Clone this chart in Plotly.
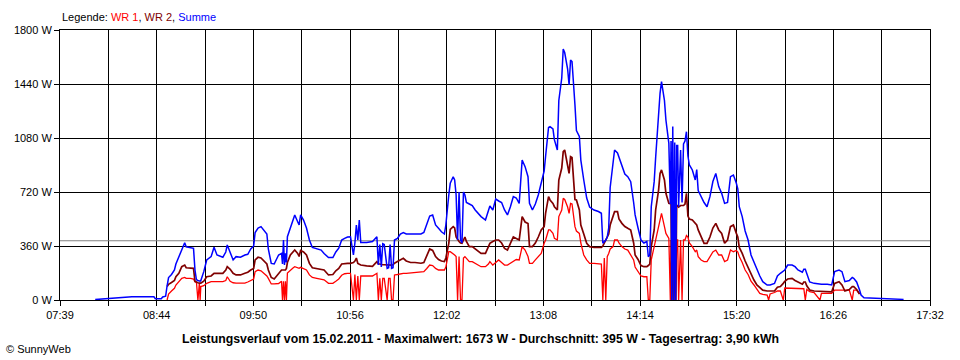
import plotly.graph_objects as go
from datetime import datetime

DATE = "2011-02-15"

times = [
    "08:03", "08:06", "08:10", "08:16", "08:21", "08:28", "08:37", "08:43", "08:44", "08:48",
    "08:49", "08:51", "08:52", "08:53", "08:55", "08:57", "08:58", "09:00", "09:02", "09:04",
    "09:05", "09:08", "09:10", "09:11", "09:12", "09:13", "09:14", "09:14:30", "09:15", "09:17",
    "09:19", "09:22", "09:24", "09:26", "09:30", "09:32", "09:33", "09:35", "09:37", "09:39",
    "09:42", "09:45", "09:47", "09:49", "09:51", "09:52", "09:54", "09:56", "09:58", "10:00",
    "10:01", "10:03", "10:05", "10:08", "10:10", "10:10:40", "10:11:20", "10:12", "10:12:40", "10:13:20",
    "10:14", "10:16", "10:18", "10:19", "10:21", "10:22", "10:23", "10:25", "10:27", "10:29",
    "10:31", "10:34", "10:37", "10:39", "10:42", "10:45", "10:47", "10:49", "10:51", "10:53",
    "10:55", "10:57", "10:59", "11:00", "11:01", "11:02", "11:03", "11:04", "11:08", "11:12",
    "11:15", "11:16", "11:17", "11:18", "11:19", "11:20", "11:22", "11:23", "11:24", "11:25",
    "11:26", "11:27", "11:29", "11:31", "11:33", "11:35", "11:38", "11:41", "11:45", "11:47",
    "11:49", "11:51", "11:53", "11:55", "11:57", "11:59", "12:01", "12:02", "12:04", "12:05",
    "12:07", "12:08", "12:09", "12:10", "12:11", "12:12", "12:13", "12:14", "12:15", "12:16",
    "12:18", "12:20", "12:22", "12:24", "12:26", "12:29", "12:31", "12:32", "12:34", "12:36",
    "12:38", "12:40", "12:42", "12:44", "12:46", "12:48", "12:50", "12:52", "12:54", "12:56",
    "12:58", "12:59", "13:01", "13:03", "13:05", "13:07", "13:09", "13:10", "13:12", "13:13",
    "13:15", "13:16", "13:18", "13:19", "13:21", "13:22", "13:23", "13:25", "13:26", "13:27",
    "13:28", "13:30", "13:31", "13:33", "13:34", "13:36", "13:38", "13:40", "13:43", "13:46",
    "13:48", "13:49", "13:50", "13:51", "13:52", "13:53", "13:54", "13:56", "13:57", "13:59",
    "14:00", "14:02", "14:04", "14:06", "14:08", "14:10", "14:11", "14:13", "14:15", "14:17",
    "14:19", "14:20", "14:21", "14:22", "14:24", "14:25", "14:27", "14:28", "14:29", "14:31",
    "14:32", "14:34", "14:35", "14:35:30", "14:36", "14:36:40", "14:37:20", "14:38", "14:38:40", "14:39:20",
    "14:40", "14:40:40", "14:42", "14:43", "14:44", "14:45", "14:46", "14:47", "14:48", "14:50",
    "14:52", "14:53", "14:54", "14:56", "14:58", "15:00", "15:02", "15:04", "15:06", "15:08",
    "15:10", "15:12", "15:14", "15:16", "15:18", "15:20", "15:21", "15:22", "15:24", "15:26",
    "15:28", "15:30", "15:32", "15:34", "15:36", "15:38", "15:41", "15:42", "15:43", "15:46",
    "15:48", "15:50", "15:52", "15:53", "15:55", "15:58", "16:00", "16:02", "16:05", "16:06",
    "16:07", "16:08", "16:10", "16:13", "16:17", "16:18", "16:22", "16:25", "16:27", "16:30",
    "16:32", "16:34", "16:37", "16:39", "16:40", "16:42", "16:44", "16:45", "16:47", "16:57",
    "17:06", "17:14",
]

N = None
wr1 = [
    N, N, N, N, N, N, N, N, N, N,
    N, N, 0, 40, 60, 78, 100, 122, 144, 150,
    144, 144, 140, 120, 118, 0, 115, 0, 90, 95,
    111, 122, 122, 122, 122, 130, 155, 125, 115, 113,
    113, 113, 120, 133, 140, 189, 200, 195, 178, 160,
    144, 107, 107, 110, 125, 0, 125, 0, 125, 0,
    180, 200, 215, 222, 215, 211, 218, 211, 200, 167,
    150, 144, 140, 135, 111, 111, 125, 140, 165, 175,
    178, 178, 0, 170, 0, 160, 0, 160, 160, 160,
    178, 0, 144, 0, 144, 144, 0, 144, 144, 0,
    0, 167, 170, 175, 178, 178, 180, 185, 189, 189,
    210, 233, 230, 211, 200, 200, 200, 220, 322, 322,
    310, 300, 290, 0, 290, 0, 0, 280, 289, 280,
    256, 256, 244, 230, 222, 222, 240, 256, 233, 250,
    267, 250, 233, 233, 244, 256, 270, 267, 356, 333,
    290, 244, 244, 267, 290, 311, 378, 400, 467, 467,
    444, 411, 400, 556, 600, 678, 670, 620, 578, 644,
    640, 489, 460, 444, 380, 300, 267, 244, 244, 240,
    240, 0, 280, 0, 289, 310, 340, 356, 400, 400,
    380, 356, 340, 333, 300, 267, 220, 190, 160, 155,
    155, 0, 0, 267, 356, 400, 489, 533, 578, 489,
    444, 411, 0, 400, 0, 400, 0, 400, 0, 400,
    400, 0, 400, 0, 400, 400, 430, 420, 380, 356,
    322, 333, 289, 267, 256, 256, 290, 320, 333, 300,
    300, 256, 267, 333, 322, 330, 320, 290, 250, 200,
    170, 125, 100, 70, 44, 38, 33, 0, 40, 50,
    60, 60, 0, 80, 80, 80, 80, 78, 75, 75,
    0, 70, 55, 50, 0, 44, 44, 44, 66, 66,
    66, 66, 66, 0, 66, 66, 40, N, N, N,
    N, N,
]

wr2 = [
    N, N, N, N, N, N, N, N, N, N,
    N, N, 90, 105, 117, 130, 155, 178, 222, 233,
    215, 211, 211, 125, 118, 115, 113, 113, 113, 125,
    155, 160, 178, 178, 178, 200, 222, 205, 178, 167,
    167, 178, 185, 200, 210, 267, 285, 280, 260, 240,
    200, 150, 140, 178, 200, 200, 200, 200, 200, 210,
    250, 300, 320, 333, 311, 290, 330, 320, 300, 244,
    215, 211, 205, 200, 167, 170, 195, 210, 240, 244,
    244, 244, 250, 260, 280, 244, 240, 233, 228, 225,
    256, 240, 240, 235, 235, 235, 233, 233, 233, 233,
    235, 245, 256, 270, 278, 260, 250, 250, 245, 250,
    300, 340, 330, 290, 270, 260, 256, 280, 378, 470,
    489, 480, 420, 400, 390, 380, 378, 400, 420, 390,
    356, 356, 340, 330, 311, 311, 350, 378, 390, 400,
    400, 380, 344, 333, 378, 420, 410, 400, 556, 520,
    510, 356, 356, 380, 420, 467, 489, 580, 689, 667,
    644, 622, 600, 800, 880, 989, 1000, 900, 844, 956,
    950, 670, 667, 600, 500, 440, 378, 356, 350, 350,
    350, 360, 380, 400, 420, 440, 500, 556, 589, 589,
    540, 511, 490, 478, 467, 380, 300, 270, 230, 222,
    222, 230, 240, 356, 467, 600, 733, 844, 867, 800,
    711, 644, 640, 640, 0, 640, 0, 640, 0, 630,
    630, 620, 630, 630, 630, 640, 711, 560, 540, 533,
    511, 500, 467, 422, 378, 378, 420, 480, 511, 467,
    444, 378, 400, 489, 500, 444, 420, 350, 311, 260,
    215, 167, 133, 100, 80, 66, 60, 60, 60, 60,
    85, 90, 111, 125, 140, 144, 130, 122, 105, 120,
    120, 95, 66, 60, 58, 58, 55, 55, 111, 122,
    100, 60, 70, 89, 89, 70, 40, N, N, N,
    N, N,
]

summe = [
    3, 5, 8, 10, 18, 22, 22, 22, 8, 8,
    20, 25, 95, 150, 170, 200, 240, 290, 340, 382,
    355, 350, 345, 200, 135, 130, 128, 125, 130, 189,
    267, 289, 351, 300, 285, 320, 367, 320, 267, 289,
    285, 300, 305, 340, 360, 450, 480, 489, 460, 440,
    340, 244, 240, 300, 311, 240, 400, 233, 311, 250,
    422, 480, 530, 567, 522, 500, 567, 533, 480, 400,
    350, 340, 333, 310, 283, 283, 320, 345, 400, 411,
    420, 422, 300, 380, 500, 400, 533, 383, 383, 390,
    422, 233, 370, 220, 375, 370, 211, 215, 370, 211,
    215, 400, 410, 440, 450, 440, 440, 444, 440, 450,
    511, 560, 567, 500, 478, 455, 440, 500, 700, 778,
    822, 800, 700, 400, 720, 400, 380, 720, 700, 650,
    640, 630, 600, 578, 556, 533, 600, 627, 600, 673,
    660, 650, 600, 567, 622, 689, 680, 644, 933, 889,
    822, 644, 600, 640, 700, 780, 860, 960, 1150, 1156,
    1140, 1067, 1000, 1330, 1480, 1673, 1650, 1540, 1433, 1600,
    1590, 1300, 1130, 1090, 933, 800, 680, 620, 600, 590,
    578, 378, 390, 400, 420, 480, 750, 900, 1000, 980,
    950, 889, 840, 822, 789, 650, 567, 480, 400, 380,
    390, 289, 300, 622, 789, 950, 1244, 1378, 1456, 1330,
    1200, 1044, 640, 1060, 0, 1156, 0, 1050, 0, 1030,
    1030, 622, 1000, 650, 1040, 1060, 1122, 960, 900, 867,
    800, 870, 730, 689, 650, 622, 689, 790, 844, 756,
    711, 644, 650, 822, 833, 778, 740, 622, 556, 460,
    400, 300, 250, 200, 160, 122, 100, 100, 100, 110,
    160, 178, 189, 200, 233, 233, 222, 200, 185, 205,
    205, 178, 120, 111, 105, 105, 105, 100, 190, 200,
    189, 122, 130, 150, 144, 120, 67, 33, 15, 10,
    5, 4,
]

assert len(times) == len(wr1) == len(wr2) == len(summe)

x_tick_labels = ["07:39", "08:44", "09:50", "10:56", "12:02",
                 "13:08", "14:14", "15:20", "16:26", "17:32"]
y_tick_values = [0, 360, 720, 1080, 1440, 1800]
y_tick_labels = ["0 W", "360 W", "720 W", "1080 W", "1440 W", "1800 W"]
average_w = 395
title_text = ("Leistungsverlauf vom 15.02.2011 - Maximalwert: 1673 W - "
              "Durchschnitt: 395 W - Tagesertrag: 3,90 kWh")

COL_WR1 = "#FF0000"
COL_WR2 = "#800000"
COL_SUM = "#0000FF"


def stamp(t):
    if len(t) == 5:
        t = t + ":00"
    return f"{DATE} {t}"


x = [stamp(t) for t in times]

start = datetime(2011, 2, 15, 7, 39)
end = datetime(2011, 2, 15, 17, 32)
step = (end - start) / 9
major = [start + i * step for i in range(10)]
minor = [start + step * (i + 0.5) for i in range(9)]

fig = go.Figure()
fig.add_trace(go.Scatter(x=[start, end], y=[average_w, average_w], mode="lines",
                         line=dict(color="#808080", width=1), hoverinfo="skip"))
fig.add_trace(go.Scatter(x=x, y=wr1, mode="lines", name="WR 1",
                         line=dict(color=COL_WR1, width=1.3)))
fig.add_trace(go.Scatter(x=x, y=wr2, mode="lines", name="WR 2",
                         line=dict(color=COL_WR2, width=1.7)))
fig.add_trace(go.Scatter(x=x, y=summe, mode="lines", name="Summe",
                         line=dict(color=COL_SUM, width=1.5)))

FONT = "Liberation Sans, Arial, sans-serif"

fig.update_layout(
    width=960, height=360,
    margin=dict(l=60, r=30, t=30, b=60),
    paper_bgcolor="white", plot_bgcolor="white",
    showlegend=False,
    font=dict(family=FONT, size=11, color="black"),
)
fig.update_xaxes(
    type="date", range=[start, end],
    tickvals=major, ticktext=x_tick_labels,
    ticks="outside", ticklen=5, tickcolor="black", tickwidth=1,
    showgrid=True, gridcolor="black", gridwidth=1,
    showline=True, linecolor="black", linewidth=1, mirror=True,
    zeroline=False,
    minor=dict(tickvals=minor, ticks="outside", ticklen=5, tickcolor="black",
               showgrid=True, gridcolor="black", gridwidth=1),
)
fig.update_yaxes(
    range=[0, 1800], tickvals=y_tick_values, ticktext=y_tick_labels,
    ticks="outside", ticklen=5, tickcolor="black", tickwidth=1,
    showgrid=True, gridcolor="black", gridwidth=1,
    showline=True, linecolor="black", linewidth=1, mirror=True,
    zeroline=False,
)

legend_html = ("Legende: <span style='color:%s'>WR 1</span>, "
               "<span style='color:%s'>WR 2</span>, "
               "<span style='color:%s'>Summe</span>") % (COL_WR1, COL_WR2, COL_SUM)

fig.add_annotation(text=legend_html, xref="paper", yref="paper",
                   x=0, y=(300 - 17) / 270, xanchor="left", yanchor="middle",
                   showarrow=False, font=dict(family=FONT, size=11, color="black"))
fig.add_annotation(text="<b>" + title_text + "</b>", xref="paper", yref="paper",
                   x=(480 - 60) / 870, y=(300 - 339) / 270,
                   xanchor="center", yanchor="middle", showarrow=False,
                   font=dict(family=FONT, size=12.3, color="black"))
fig.add_annotation(text="© SunnyWeb", xref="paper", yref="paper",
                   x=(4 - 60) / 870, y=(300 - 349) / 270,
                   xanchor="left", yanchor="middle", showarrow=False,
                   font=dict(family=FONT, size=11, color="black"))

fig.write_html(
    "out.html",
    config={"displayModeBar": False},
    post_script="document.body.style.margin='0';document.body.style.overflow='hidden';",
)
